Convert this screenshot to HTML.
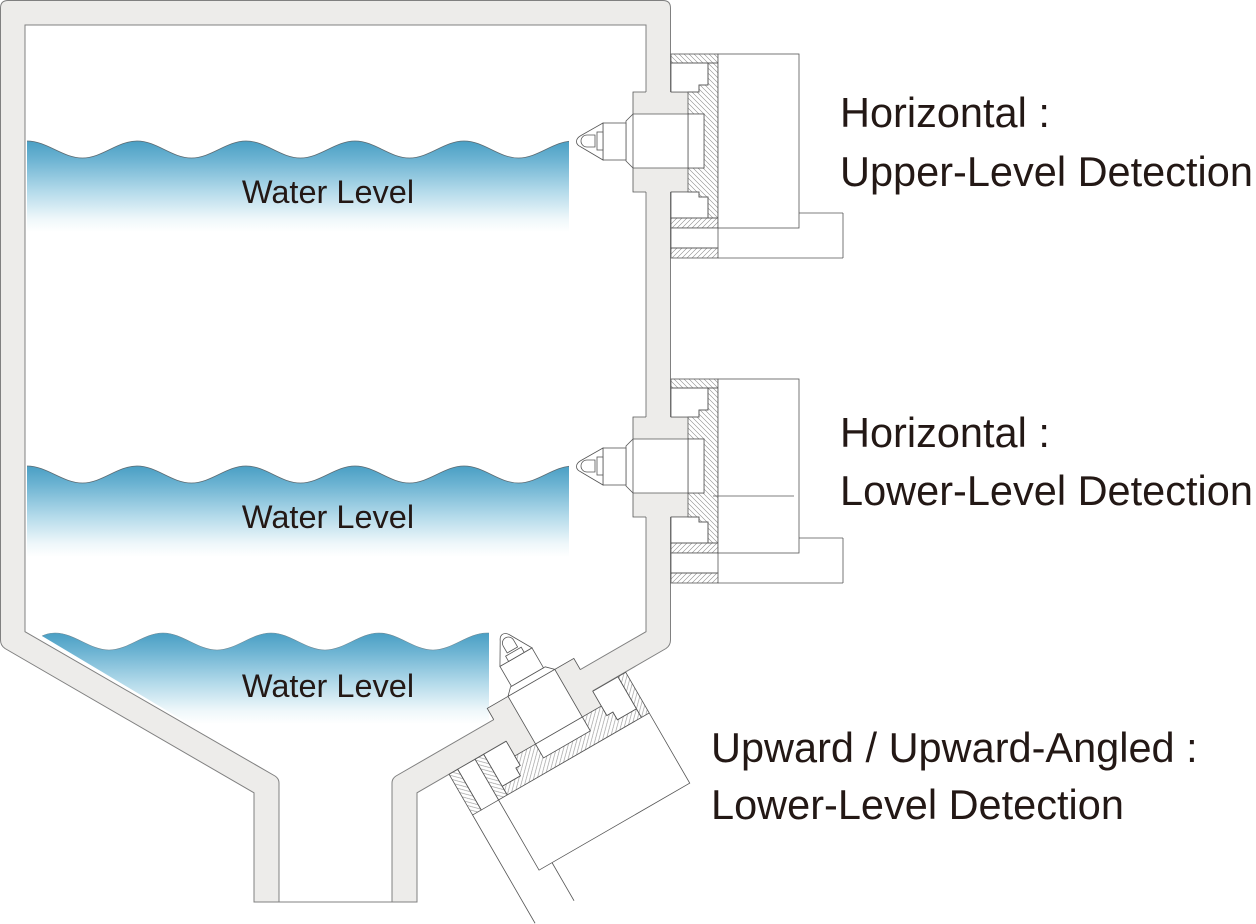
<!DOCTYPE html>
<html>
<head>
<meta charset="utf-8">
<style>
  html, body { margin:0; padding:0; background:#fff; }
  svg { display:block; }
  .t { font-family:"Liberation Sans", Arial, sans-serif; fill:#231815; }
</style>
</head>
<body>
<svg width="1256" height="924" viewBox="0 0 1256 924" xmlns="http://www.w3.org/2000/svg">
<defs>
  <linearGradient id="g1" gradientUnits="userSpaceOnUse" x1="0" y1="141" x2="0" y2="232">
    <stop offset="0" stop-color="#4a9fc4"/>
    <stop offset="0.2" stop-color="#6cb3d2"/>
    <stop offset="0.55" stop-color="#b3daea"/>
    <stop offset="0.85" stop-color="#eef7fa"/>
    <stop offset="1" stop-color="#ffffff"/>
  </linearGradient>
  <linearGradient id="g3" gradientUnits="userSpaceOnUse" x1="0" y1="633" x2="0" y2="724">
    <stop offset="0" stop-color="#4a9fc4"/>
    <stop offset="0.2" stop-color="#6cb3d2"/>
    <stop offset="0.55" stop-color="#b3daea"/>
    <stop offset="0.85" stop-color="#eef7fa"/>
    <stop offset="1" stop-color="#ffffff"/>
  </linearGradient>
  <clipPath id="c1"><rect x="27" y="130" width="542" height="110"/></clipPath>
  <clipPath id="c3"><polygon points="25,600 646,600 646,630 392,776.5 279,776.5 25,630"/></clipPath>
  <pattern id="hA" patternUnits="userSpaceOnUse" width="5" height="5">
    <path d="M-1,-1 L6,6 M-1,4 L1,6 M4,-1 L6,1" stroke="#8a8a8a" stroke-width="0.6"/>
  </pattern>
  <pattern id="hB" patternUnits="userSpaceOnUse" width="5" height="5">
    <path d="M-1,6 L6,-1 M-1,1 L1,-1 M4,6 L6,4" stroke="#8a8a8a" stroke-width="0.6"/>
  </pattern>

  <g id="w1">
    <g clip-path="url(#c1)">
      <path fill="url(#g1)" d="M27,141 C47,141 62.5,158 82.5,158 C102,158 117.5,141 137,141 C157,141 171.5,158 191.5,158 C211,158 226.5,141 246,141 C266,141 280.5,158 300.5,158 C320,158 335.5,141 355,141 C375,141 389.5,158 409.5,158 C429,158 444.5,141 464,141 C484,141 498.5,158 518.5,158 C538,158 553.5,141 573,141 L573,234 L27,234 Z"/>
      <path fill="none" stroke="#5d6b72" stroke-width="0.8" d="M27,141 C47,141 62.5,158 82.5,158 C102,158 117.5,141 137,141 C157,141 171.5,158 191.5,158 C211,158 226.5,141 246,141 C266,141 280.5,158 300.5,158 C320,158 335.5,141 355,141 C375,141 389.5,158 409.5,158 C429,158 444.5,141 464,141 C484,141 498.5,158 518.5,158 C538,158 553.5,141 573,141"/>
    </g>
  </g>

  <g id="asm" stroke="#555" stroke-width="0.8" fill="#fff">
    <rect x="633" y="92" width="55" height="100" fill="#edecea" stroke="none"/>
    <polyline points="646,92 633,92 633,192 646,192" fill="none"/>
    <line x1="671" y1="92" x2="688" y2="92"/>
    <line x1="671" y1="192" x2="688" y2="192"/>
    <polygon points="671,63 708,63 708,85 699,85 699,92 671,92"/>
    <polygon points="671,192 699,192 699,197 708,197 708,218 671,218"/>
    <polygon fill="url(#hA)" points="708,63 718,63 718,218 708,218 708,197 699,197 699,192 688,192 688,168 704,168 704,114 688,114 688,92 699,92 699,85 708,85"/>
    <rect x="688" y="114" width="16" height="54"/>
    <polygon points="633,114 688,114 688,168 633,168 626,161 626,121"/>
    <line x1="633" y1="114" x2="633" y2="168"/>
    <rect x="603" y="123" width="23" height="37"/>
    <path d="M603,123 L581,135.5 Q576.5,138 576.5,141.5 Q576.5,145 581,147 L603,160 Z"/>
    <rect x="597" y="132" width="6" height="18"/>
    <path d="M595,135 L587,135 A6,6 0 0 0 587,147 L595,147 Z"/>
    <rect x="671" y="54" width="47" height="9" fill="url(#hA)"/>
    <rect x="671" y="218" width="47" height="10" fill="url(#hB)"/>
    <rect x="671" y="228" width="47" height="20"/>
    <rect x="671" y="248" width="47" height="10" fill="url(#hB)"/>
    <rect x="718" y="54" width="81" height="174"/>
    <line x1="799" y1="213" x2="843" y2="213"/>
    <line x1="718" y1="258" x2="843" y2="258"/>
  </g>
</defs>

<!-- Tank -->
<path fill="#edecea" stroke="#808080" stroke-width="1"
  d="M0.5,8 Q0.5,0.5 8,0.5 L663,0.5 Q670.5,0.5 670.5,8 L670.5,640 Q670.5,645.5 666,648.5 L417,792.8 L417,902 L254,902 L254,792.8 L5,648.5 Q0.5,645.5 0.5,640 Z"/>
<path fill="#ffffff" stroke="#808080" stroke-width="1"
  d="M25,25 L646,25 L646,631.7 L396,776 Q392,778.5 392,783 L392,902 L279,902 L279,783 Q279,778.5 275,776 L25,631.7 Z"/>

<!-- Water 1 & 2 -->
<use href="#w1"/>
<use href="#w1" transform="translate(0,325)"/>

<!-- Water 3 -->
<g clip-path="url(#c3)">
<path fill="url(#g3)" d="M42,636 C46,634 50,633 55,633 C74.5,633 89.5,650 109,650 C128.5,650 143.5,633 163,633 C182.5,633 197.5,650 217,650 C236.5,650 251.5,633 271,633 C290.5,633 305.5,650 325,650 C344.5,650 359.5,633 379,633 C398.5,633 413.5,650 433,650 C452.5,650 467.5,633 487,633 L489,633 L489,740 L216,740 Z"/>
<path fill="none" stroke="#6f8a96" stroke-width="0.6" d="M42,636 C46,634 50,633 55,633 C74.5,633 89.5,650 109,650 C128.5,650 143.5,633 163,633 C182.5,633 197.5,650 217,650 C236.5,650 251.5,633 271,633 C290.5,633 305.5,650 325,650 C344.5,650 359.5,633 379,633 C398.5,633 413.5,650 433,650 C452.5,650 467.5,633 487,633 L489,633"/>
</g>

<!-- Sensor assemblies -->
<use href="#asm"/>
<line x1="843" y1="213" x2="843" y2="258" stroke="#555" stroke-width="0.8"/>

<use href="#asm" transform="translate(0,325)"/>
<line x1="843" y1="538" x2="843" y2="583" stroke="#555" stroke-width="0.8"/>
<line x1="713" y1="496" x2="794" y2="496" stroke="#555" stroke-width="0.8"/>

<use href="#asm" transform="matrix(0.5,0.866,-0.866,0.5,337,64.2)"/>

<!-- Water labels -->
<text class="t" x="328" y="203" font-size="32.5" text-anchor="middle">Water Level</text>
<text class="t" x="328" y="528" font-size="32.5" text-anchor="middle">Water Level</text>
<text class="t" x="328" y="697" font-size="32.5" text-anchor="middle">Water Level</text>

<!-- Side labels -->
<text class="t" x="840" y="127" font-size="41.5">Horizontal :</text>
<text class="t" x="840" y="186" font-size="41.5">Upper-Level Detection</text>
<text class="t" x="840" y="447" font-size="41.5">Horizontal :</text>
<text class="t" x="840" y="505" font-size="41.5">Lower-Level Detection</text>
<text class="t" x="711" y="762" font-size="41.5">Upward / Upward-Angled :</text>
<text class="t" x="711" y="819" font-size="41.5">Lower-Level Detection</text>
</svg>
</body>
</html>
